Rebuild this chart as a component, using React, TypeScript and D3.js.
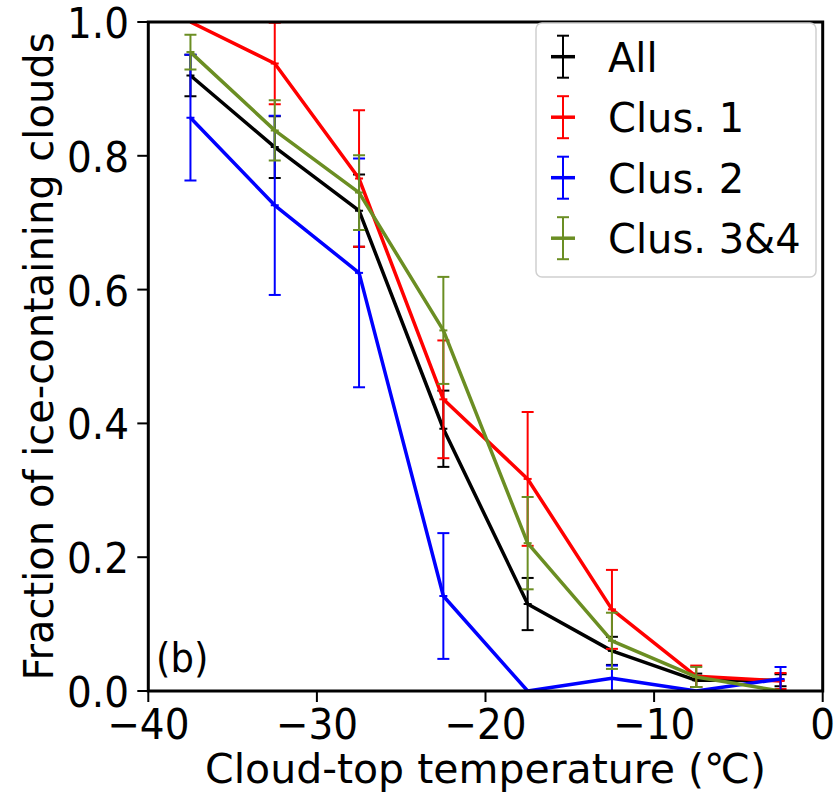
import React from "react";
import * as d3 from "d3";

const temps = [-37.5, -32.5, -27.5, -22.5, -17.5, -12.5, -7.5, -2.5];
const seriesNames = ["All", "Clus. 1", "Clus. 2", "Clus. 3&4"];
const seriesColors = ["#000000", "#ff0000", "#0000ff", "#6b8e23"];
const allVals = [0.92, 0.813, 0.718, 0.392, 0.13, 0.06, 0.016, 0.016];
const allErr = [0.031, 0.046, 0.054, 0.057, 0.039, 0.021, 0.01, 0.009];
const clus1Vals = [1.0, 0.938, 0.766, 0.436, 0.317, 0.122, 0.022, 0.015];
const clus1Err = [0.0, 0.061, 0.102, 0.088, 0.1, 0.059, 0.016, 0.012];
const clus2Vals = [0.857, 0.726, 0.625, 0.142, 0.0, 0.019, 0.0, 0.018];
const clus2Err = [0.094, 0.134, 0.171, 0.094, 0.0, 0.019, 0.0, 0.018];
const clus34Vals = [0.955, 0.838, 0.745, 0.539, 0.221, 0.075, 0.021, 0.0];
const clus34Err = [0.026, 0.045, 0.056, 0.08, 0.069, 0.042, 0.015, 0.0];
const xTicks = [-40, -30, -20, -10, 0];
const yTicks = [0, 0.2, 0.4, 0.6, 0.8, 1.0];

const series = [
  { vals: allVals, err: allErr },
  { vals: clus1Vals, err: clus1Err },
  { vals: clus2Vals, err: clus2Err },
  { vals: clus34Vals, err: clus34Err },
];

const L = 148.3, R = 822.7, T = 22, B = 691;
const FONT = "'DejaVu Sans', sans-serif";
const SY = 1.08;

export default function App() {
  const x = d3.scaleLinear().domain([-40, 0]).range([L, R]);
  const y = d3.scaleLinear().domain([0, 1]).range([B, T]);
  const line = d3.line<number>().x((_, i) => x(temps[i])).y((v) => y(v));
  const capW = 6;
  return (
    <svg width={840} height={793} style={{ position: "absolute", left: 0, top: 0, background: "#fff" }}>
      <defs>
        <clipPath id="plot">
          <rect x={L} y={T} width={R - L} height={B - T} />
        </clipPath>
      </defs>
      <g clipPath="url(#plot)">
        {series.map((s, si) => (
          <g key={si}>
            {s.vals.map((v, i) => {
              const e = s.err[i];
              if (e <= 0) return null;
              const cx = x(temps[i]);
              const y1 = y(v + e), y0 = y(v - e);
              return (
                <g key={i} stroke={seriesColors[si]} strokeWidth={2}>
                  <line x1={cx} x2={cx} y1={y1} y2={y0} />
                  <line x1={cx - capW} x2={cx + capW} y1={y1} y2={y1} />
                  <line x1={cx - capW} x2={cx + capW} y1={y0} y2={y0} />
                </g>
              );
            })}
            <path d={line(s.vals) || ""} fill="none" stroke={seriesColors[si]} strokeWidth={3.5} strokeLinejoin="round" />
            {s.vals.map((v, i) => (
              <line key={"m" + i} x1={x(temps[i]) - 4} x2={x(temps[i]) + 4} y1={y(v)} y2={y(v)} stroke={seriesColors[si]} strokeWidth={2} />
            ))}
          </g>
        ))}
      </g>
      {/* spines */}
      <rect x={L} y={T} width={R - L} height={B - T} fill="none" stroke="#000" strokeWidth={3} />
      {xTicks.map((t) => (
        <g key={t}>
          <line x1={x(t)} x2={x(t)} y1={B} y2={B + 11} stroke="#000" strokeWidth={2} />
          <text transform={`translate(${x(t)}, 738.5) scale(1, ${SY})`} textAnchor="middle" fontFamily={FONT} fontSize={39}>
            {t < 0 ? "\u2212" + Math.abs(t) : String(t)}
          </text>
        </g>
      ))}
      {yTicks.map((t) => (
        <g key={t}>
          <line x1={L - 11} x2={L} y1={y(t)} y2={y(t)} stroke="#000" strokeWidth={2} />
          <text transform={`translate(129, ${y(t) + 16}) scale(1, ${SY})`} textAnchor="end" fontFamily={FONT} fontSize={39}>
            {t.toFixed(1)}
          </text>
        </g>
      ))}
      <text transform={`translate(${(L + R) / 2}, 782.5) scale(1, 1.0)`} textAnchor="middle" fontFamily={FONT} fontSize={41}>
        Cloud-top temperature (℃)
      </text>
      <text transform={`translate(53, ${(T + B) / 2}) rotate(-90)`} textAnchor="middle" fontFamily={FONT} fontSize={40}>
        Fraction of ice-containing clouds
      </text>
      <text transform={`translate(156, 672) scale(1, ${SY})`} fontFamily={FONT} fontSize={37}>(b)</text>
      {/* legend */}
      <rect x={536} y={23} width={280} height={254} rx={6} fill="#fff" fillOpacity={0.85} stroke="#d0d0d0" strokeWidth={1.5} />
      {seriesNames.map((n, i) => {
        const cy = 56.7 + i * 60.5;
        const c = seriesColors[i];
        return (
          <g key={n}>
            <line x1={551} x2={575} y1={cy} y2={cy} stroke={c} strokeWidth={3.5} />
            <line x1={563} x2={563} y1={cy - 21} y2={cy + 21} stroke={c} strokeWidth={2} />
            <line x1={557} x2={569} y1={cy - 21} y2={cy - 21} stroke={c} strokeWidth={2} />
            <line x1={557} x2={569} y1={cy + 21} y2={cy + 21} stroke={c} strokeWidth={2} />
            <text transform={`translate(608, ${cy + 15}) scale(1, 1.04)`} fontFamily={FONT} fontSize={40}>{n}</text>
          </g>
        );
      })}
    </svg>
  );
}
